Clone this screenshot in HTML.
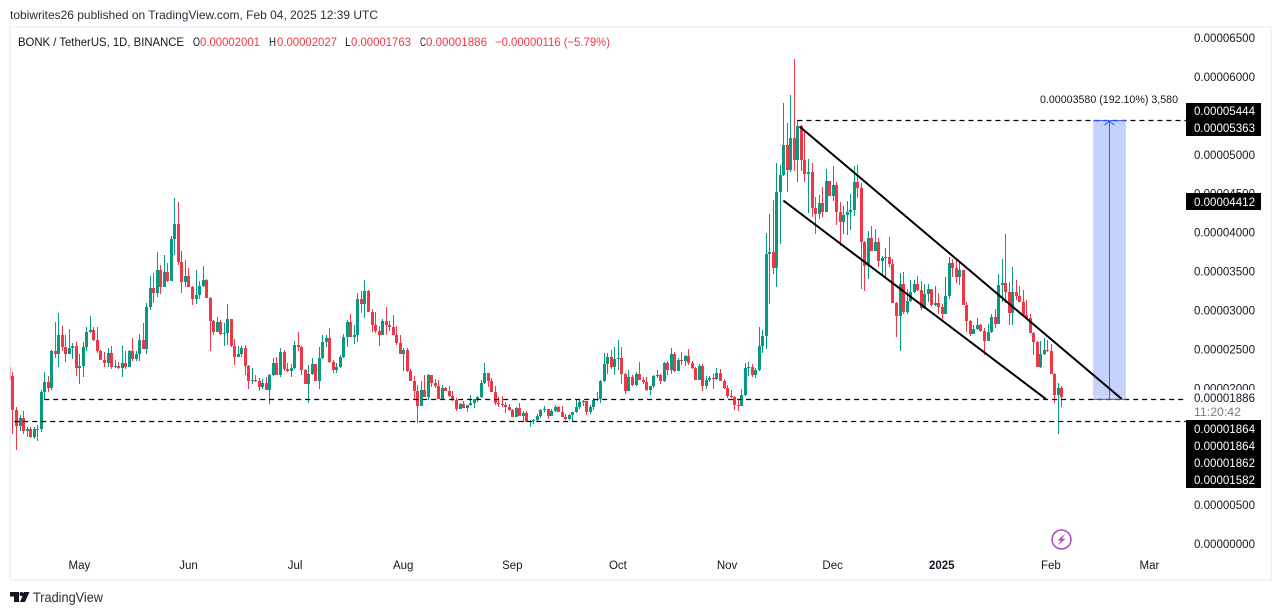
<!DOCTYPE html>
<html lang="en">
<head>
<meta charset="utf-8">
<title>BONK / TetherUS chart</title>
<style>
html,body{margin:0;padding:0;background:#fff;}
body{width:1281px;height:615px;overflow:hidden;}
svg{display:block;}
text{font-family:"Liberation Sans",sans-serif;}
</style>
</head>
<body>
<svg id="chart" xmlns="http://www.w3.org/2000/svg" width="1281" height="615" viewBox="0 0 1281 615">
  <rect x="0" y="0" width="1281" height="615" fill="#ffffff"/>
  <text x="10" y="19" font-size="12" fill="#2a2e39" textLength="368" lengthAdjust="spacingAndGlyphs">tobiwrites26 published on TradingView.com, Feb 04, 2025 12:39 UTC</text>
  <rect x="10" y="27" width="1261" height="553" fill="none" stroke="#f0f3fa" stroke-width="2"/>
  <rect x="10" y="367" width="1" height="13" fill="#f8a0a8"/>
  <g id="candles" shape-rendering="crispEdges"></g>
  <g id="annotations"></g>
  <g id="price-axis"></g>
  <g id="time-axis"></g>

  <text x="18" y="46" font-size="12" fill="#131722" textLength="166" lengthAdjust="spacingAndGlyphs">BONK / TetherUS, 1D, BINANCE</text>
  <text x="193" y="46" font-size="12" fill="#131722" textLength="7" lengthAdjust="spacingAndGlyphs">O</text>
  <text x="200" y="46" font-size="12" fill="#f23645" textLength="60" lengthAdjust="spacingAndGlyphs">0.00002001</text>
  <text x="269" y="46" font-size="12" fill="#131722" textLength="7" lengthAdjust="spacingAndGlyphs">H</text>
  <text x="277" y="46" font-size="12" fill="#f23645" textLength="60" lengthAdjust="spacingAndGlyphs">0.00002027</text>
  <text x="345" y="46" font-size="12" fill="#131722" textLength="6" lengthAdjust="spacingAndGlyphs">L</text>
  <text x="351" y="46" font-size="12" fill="#f23645" textLength="60" lengthAdjust="spacingAndGlyphs">0.00001763</text>
  <text x="420" y="46" font-size="12" fill="#131722" textLength="6" lengthAdjust="spacingAndGlyphs">C</text>
  <text x="426" y="46" font-size="12" fill="#f23645" textLength="61" lengthAdjust="spacingAndGlyphs">0.00001886</text>
  <text x="495" y="46" font-size="12" fill="#f23645" textLength="115" lengthAdjust="spacingAndGlyphs">−0.00000116 (−5.79%)</text>

  <text x="1178" y="103" font-size="11" fill="#131722" text-anchor="end" textLength="138" lengthAdjust="spacingAndGlyphs">0.00003580 (192.10%) 3,580</text>

  <g>
    <rect x="1186" y="103" width="75" height="33" fill="#000000"/>
    <text x="1194" y="115" font-size="11.5" fill="#ffffff" textLength="61" lengthAdjust="spacingAndGlyphs">0.00005444</text>
    <text x="1194" y="132" font-size="11.5" fill="#ffffff" textLength="61" lengthAdjust="spacingAndGlyphs">0.00005363</text>
    <rect x="1186" y="193" width="75" height="17" fill="#000000"/>
    <text x="1194" y="206" font-size="11.5" fill="#ffffff" textLength="61" lengthAdjust="spacingAndGlyphs">0.00004412</text>
  </g>
  <g>
    <rect x="1186" y="390" width="75" height="30" fill="#ffffff"/>
    <text x="1194" y="402" font-size="11.5" fill="#131722" textLength="61" lengthAdjust="spacingAndGlyphs">0.00001886</text>
    <text x="1194" y="416" font-size="11.5" fill="#787b86" textLength="47" lengthAdjust="spacingAndGlyphs">11:20:42</text>
  </g>
  <g>
    <rect x="1186" y="420" width="75" height="68" fill="#000000"/>
    <text x="1194" y="433" font-size="11.5" fill="#ffffff" textLength="61" lengthAdjust="spacingAndGlyphs">0.00001864</text>
    <text x="1194" y="450" font-size="11.5" fill="#ffffff" textLength="61" lengthAdjust="spacingAndGlyphs">0.00001864</text>
    <text x="1194" y="467" font-size="11.5" fill="#ffffff" textLength="61" lengthAdjust="spacingAndGlyphs">0.00001862</text>
    <text x="1194" y="484" font-size="11.5" fill="#ffffff" textLength="61" lengthAdjust="spacingAndGlyphs">0.00001582</text>
  </g>

  <g>
    <circle cx="1061.5" cy="539.5" r="9.5" fill="#ffffff" stroke="#ab47bc" stroke-width="1.5"/>
    <polygon points="1065.5,533.5 1057.5,540.5 1061,540.5 1057.5,545.5 1065.5,538.8 1062,538.8" fill="#ab47bc"/>
  </g>

  <g>
    <polygon points="10,592 19,592 19,602 14,602 14,596.5 10,596.5" fill="#131722"/>
    <circle cx="21.5" cy="594" r="2" fill="#131722"/>
    <polygon points="24,592 29.5,592 25,602 20,602" fill="#131722"/>
    <text x="33" y="602" font-size="14" fill="#2a2e39" textLength="70" lengthAdjust="spacingAndGlyphs">TradingView</text>
  </g>
</svg>
<script>
// Prices are in millionths of USDT (20.01 = 0.00002001)
const firstOpen = 21.58;
const closes = [
17.21,15.15,16.18,14.51,14.73,13.74,14.81,14.77,19.52,20.81,20.04,24.79,24.40,26.84,25.30,24.40,25.17,25.43,22.60,22.86,25.30,27.23,27.49,26.20,24.79,23.63,23.25,24.53,22.73,22.86,22.60,23.25,22.73,24.79,23.76,24.40,26.20,25.04,30.44,32.88,32.24,35.19,33.01,34.94,33.78,39.18,41.10,36.22,33.65,34.42,33.01,31.47,31.98,33.14,33.91,31.60,28.64,27.23,28.51,26.97,27.10,28.90,25.43,24.02,24.40,25.17,22.86,20.93,21.06,20.97,20.16,
20.68,19.78,21.71,23.25,21.71,24.67,22.48,22.23,22.61,25.57,25.31,22.35,20.56,21.84,23.12,20.94,23.90,25.95,26.46,23.38,22.35,22.74,23.98,26.59,28.52,26.59,26.85,31.47,30.83,32.50,29.80,28.13,27.36,26.85,28.65,28.13,27.88,26.85,25.82,24.41,24.92,22.23,20.94,19.66,17.73,19.78,18.89,21.71,20.68,20.30,18.63,20.04,19.66,19.01,18.50,17.34,17.99,17.47,17.86,18.11,18.63,18.84,20.68,21.97,20.94,19.53,18.11,17.99,17.86,17.60,17.22,16.32,17.47,16.44,
16.82,15.67,15.80,15.92,16.44,17.21,17.29,16.44,17.08,17.59,16.95,16.31,16.05,16.57,16.95,17.59,18.24,18.37,16.95,17.59,18.49,18.62,20.93,23.12,24.02,22.73,23.76,23.89,21.83,19.65,21.45,20.42,21.83,21.06,20.81,19.78,20.29,21.58,21.71,20.93,23.25,22.35,24.40,22.22,23.63,23.50,24.15,23.25,22.60,21.06,22.86,20.29,21.06,21.32,21.19,21.96,20.93,20.03,19.01,18.92,17.85,17.72,19.14,22.60,22.69,21.71,22.35,25.43,
26.71,37.25,37.51,35.45,45.21,47.39,51.25,48.04,52.15,49.32,53.69,49.32,47.52,47.78,43.15,42.38,43.80,42.64,46.62,44.69,46.11,42.64,41.36,42.25,42.64,42.90,46.49,45.72,38.79,
35.71,39.31,37.64,38.80,36.35,36.74,36.83,35.97,30.96,29.29,33.40,29.80,31.22,
32.37,33.40,32.63,30.32,32.11,32.76,30.70,30.96,30.44,29.54,31.86,36.10,35.45,34.30,35.20,30.70,28.64,26.98,27.62,28.13,27.36,26.08,27.23,29.16,28.26,33.27,33.53,32.37,29.67,32.37,31.86,31.09,29.42,29.03,27.10,25.95,22.74,24.41,24.92,24.79,21.84,19.14,20.01,18.86
];
const highs = [
22.09,17.64,16.57,17.08,14.98,14.98,14.98,15.28,19.78,22.09,21.58,24.92,28.51,29.67,28.00,26.84,27.61,25.82,25.94,24.40,25.94,27.87,29.28,27.87,27.87,24.92,24.66,25.17,25.43,23.63,23.37,25.43,24.79,24.92,26.46,24.79,26.97,28.38,30.95,34.42,34.81,37.51,35.84,37.12,36.09,39.56,44.44,43.93,37.63,36.48,35.45,33.14,35.19,33.78,35.71,34.04,31.72,28.77,29.16,28.77,28.38,30.83,28.90,26.33,25.43,25.43,25.56,22.99,22.60,21.71,21.32,
21.20,21.45,21.84,23.90,24.02,25.18,24.92,23.25,23.12,26.08,27.24,25.44,22.48,23.00,23.90,23.12,25.31,26.85,26.85,27.75,23.64,23.25,24.28,26.98,28.78,29.55,28.13,32.25,32.50,33.92,32.63,30.19,29.80,28.01,28.91,30.45,28.65,29.42,28.01,26.85,25.18,25.18,22.48,21.58,20.43,20.94,21.71,21.84,21.71,21.20,21.07,20.43,20.17,20.30,19.66,18.76,18.11,18.37,17.86,19.14,18.63,19.01,21.07,23.25,21.97,21.33,20.30,18.89,19.01,18.24,17.99,17.34,17.60,18.11,
17.08,17.08,15.92,16.05,16.69,17.34,17.72,17.21,17.34,17.81,17.72,17.72,16.69,16.69,16.95,18.49,18.62,18.49,18.37,17.85,18.75,19.52,21.06,24.53,24.53,24.92,25.30,26.20,25.30,21.96,22.35,21.71,22.09,23.37,21.45,21.45,20.29,21.71,22.35,21.83,23.37,23.50,25.17,24.66,23.89,24.66,24.27,25.04,23.50,22.73,23.12,23.12,21.58,21.58,21.83,22.60,22.48,21.19,20.42,19.78,19.01,18.49,19.91,23.25,23.37,23.12,22.60,27.87,
27.48,39.95,42.39,44.19,48.93,48.68,56.64,54.07,57.67,62.29,54.46,53.82,53.04,49.45,48.93,44.57,44.82,45.85,48.16,46.62,48.55,46.49,43.92,43.41,44.05,44.95,48.55,48.68,46.36,
38.92,40.21,40.85,40.47,39.31,37.00,38.02,39.44,36.61,31.09,34.81,34.94,32.76,
33.91,33.91,34.43,33.78,33.40,33.40,32.76,33.14,32.24,30.83,34.30,36.87,36.61,36.48,36.10,35.20,31.09,28.77,28.13,29.03,28.26,27.75,28.26,29.54,30.19,34.68,36.61,39.82,33.66,35.58,33.91,33.14,32.63,31.34,29.54,27.23,26.08,26.08,26.46,26.20,25.69,21.97,20.68,20.27
];
const lows = [
14.13,12.07,14.55,14.13,13.78,13.61,13.53,13.27,14.38,18.58,19.52,19.78,23.89,22.73,24.79,23.37,24.40,23.76,21.58,20.55,21.45,24.79,27.10,26.07,24.53,23.63,22.73,22.73,22.48,22.60,22.48,21.45,22.48,22.73,23.50,23.50,23.50,25.04,24.40,30.05,30.95,31.72,32.11,33.01,33.65,33.78,37.12,35.84,32.24,33.01,33.01,30.70,30.83,31.47,33.01,31.60,24.79,26.84,27.23,26.84,25.43,25.56,25.30,22.99,24.02,24.02,21.71,19.91,20.55,20.85,19.65,
19.91,19.78,17.99,21.58,21.71,21.45,22.23,22.10,21.45,22.48,24.79,21.71,20.56,18.11,21.71,20.94,19.91,23.77,25.31,23.25,21.97,21.97,22.61,23.90,25.31,26.59,25.69,25.95,29.68,29.03,29.80,27.24,27.11,25.44,26.85,26.85,27.36,26.85,25.57,24.41,22.23,22.10,20.94,18.63,15.55,17.73,18.89,18.50,20.17,20.04,18.63,18.63,19.66,18.89,18.37,17.09,17.34,17.47,16.96,17.73,17.47,18.24,18.76,20.56,20.17,19.53,17.86,17.60,17.60,16.83,17.09,16.32,16.32,16.44,
15.67,15.67,15.02,15.41,15.80,16.14,16.95,16.05,16.44,16.95,16.95,16.31,15.92,15.92,15.67,16.82,17.34,17.72,16.57,16.69,17.21,18.37,18.11,20.81,21.83,22.48,21.71,22.35,20.55,19.26,19.65,20.29,20.29,21.06,20.55,19.65,19.14,20.03,21.32,20.55,20.81,21.71,21.83,22.09,22.22,22.99,22.86,22.99,22.48,21.06,21.71,19.65,19.91,20.81,19.91,21.06,20.93,19.91,18.75,18.75,17.21,17.08,17.72,19.01,21.58,21.45,21.32,22.22,
24.53,25.05,30.83,34.68,33.01,38.53,47.26,45.21,47.78,47.91,46.49,47.91,46.49,42.51,41.99,39.81,41.74,41.99,42.64,44.69,44.05,40.97,38.27,39.81,39.69,40.33,42.13,44.44,32.76,
32.50,34.04,37.64,37.64,35.58,34.43,34.30,35.58,30.96,26.59,24.79,29.55,29.55,
31.09,32.24,32.50,30.06,30.19,31.09,30.57,30.57,29.54,28.90,29.54,31.47,34.30,33.53,33.27,30.70,27.23,26.72,26.98,27.49,27.23,24.28,26.08,27.10,27.75,28.26,31.09,30.96,28.13,28.13,31.34,31.09,29.42,28.90,27.10,24.28,22.74,22.61,24.28,24.66,21.84,18.11,14.13,17.63
];
const priceTicks = [65, 60, 50, 45, 40, 35, 30, 25, 20, 5, 0];
const monthLabels = ["May", "Jun", "Jul", "Aug", "Sep", "Oct", "Nov", "Dec", "2025", "Feb", "Mar"];
const monthBars = [19, 50, 80.3, 111, 142, 172, 203, 233, 264, 295, 323];
const levelPrices = [54.44, 18.64, 15.82];
const levelStartBars = [223, 9, 0.5];
const levelEndBar = 333.4;
const upperChannelPrices = [53.63, 18.64];
const upperChannelBars = [223.6, 315.1];
const lowerChannelPrices = [44.12, 18.62];
const lowerChannelBars = [219, 293.6];
const measurePrices = [18.64, 54.44];
const measureBars = [307, 316.3];

function xScale(bar) { return 12.48 + 3.52 * bar; }
function yScale(price) { return 544 - 7.785 * price; }

const NS = 'http://www.w3.org/2000/svg';
function make(tag, attrs, parent) {
  const el = document.createElementNS(NS, tag);
  for (const k in attrs) el.setAttribute(k, attrs[k]);
  parent.appendChild(el);
  return el;
}

const GREEN = '#089981';
const RED = '#f23645';
const candleLayer = document.getElementById('candles');
closes.forEach(function (close, i) {
  const open = i === 0 ? firstOpen : closes[i - 1];
  const colour = close >= open ? GREEN : RED;
  const px = Math.round(xScale(i));
  const yHigh = Math.round(yScale(highs[i]));
  const yLow = Math.round(yScale(lows[i]));
  const yTop = Math.round(yScale(Math.max(open, close)));
  const yBot = Math.round(yScale(Math.min(open, close)));
  const group = make('g', {}, candleLayer);
  
  
  const wick = make('rect', { x: px, y: yHigh, width: 1, height: Math.max(1, yLow - yHigh), fill: colour }, group);
  
  
  const body = make('rect', { x: px - 1, y: yTop, width: 3, height: Math.max(1, yBot - yTop), fill: colour }, group);
  
  
});

const drawLayer = document.getElementById('annotations');

const box = make('rect', {
  x: xScale(measureBars[0]), y: yScale(measurePrices[1]),
  width: xScale(measureBars[1]) - xScale(measureBars[0]),
  height: yScale(measurePrices[0]) - yScale(measurePrices[1]),
  fill: '#c5d3fb'
}, drawLayer);



const boxDots = make('line', {
  x1: xScale(measureBars[0]), x2: xScale(measureBars[1]),
  y1: yScale(18.86) - 0.5, y2: yScale(18.86) - 0.5,
  stroke: '#ffffff', 'stroke-width': 1, 'stroke-dasharray': '1 2'
}, drawLayer);



levelPrices.forEach(function (price, i) {
  const y = Math.round(yScale(price)) + 0.5;
  const line = make('line', {
    x1: xScale(levelStartBars[i]), x2: xScale(levelEndBar), y1: y, y2: y,
    stroke: '#000000', 'stroke-width': 1.3, 'stroke-dasharray': '5 4'
  }, drawLayer);
  
  
});

const midX = (xScale(measureBars[0]) + xScale(measureBars[1])) / 2;
const boxTop = make('line', {
  x1: xScale(measureBars[0]), x2: xScale(measureBars[1]),
  y1: yScale(measurePrices[1]) + 0.5, y2: yScale(measurePrices[1]) + 0.5,
  stroke: '#2962ff', 'stroke-width': 1
}, drawLayer);



const boxBottom = make('line', {
  x1: xScale(measureBars[0]), x2: xScale(measureBars[1]),
  y1: yScale(measurePrices[0]) + 0.5, y2: yScale(measurePrices[0]) + 0.5,
  stroke: '#2962ff', 'stroke-width': 1
}, drawLayer);



const stem = make('line', {
  x1: midX, x2: midX, y1: yScale(measurePrices[0]), y2: yScale(measurePrices[1]) + 1,
  stroke: '#2962ff', 'stroke-width': 1
}, drawLayer);



const head = make('polyline', {
  points: (midX - 5) + ',' + (yScale(measurePrices[1]) + 5) + ' ' + midX + ',' + (yScale(measurePrices[1]) + 1) + ' ' + (midX + 5) + ',' + (yScale(measurePrices[1]) + 5),
  fill: 'none', stroke: '#2962ff', 'stroke-width': 1
}, drawLayer);



const upperChannel = make('line', {
  x1: xScale(upperChannelBars[0]), y1: yScale(upperChannelPrices[0]),
  x2: xScale(upperChannelBars[1]), y2: yScale(upperChannelPrices[1]),
  stroke: '#000000', 'stroke-width': 2
}, drawLayer);



const lowerChannel = make('line', {
  x1: xScale(lowerChannelBars[0]), y1: yScale(lowerChannelPrices[0]),
  x2: xScale(lowerChannelBars[1]), y2: yScale(lowerChannelPrices[1]),
  stroke: '#000000', 'stroke-width': 2
}, drawLayer);



const priceAxis = document.getElementById('price-axis');
priceTicks.forEach(function (tick) {
  const label = make('text', {
    x: 1194, y: yScale(tick) + 4, 'font-size': 11.5, fill: '#131722',
    textLength: 61, lengthAdjust: 'spacingAndGlyphs'
  }, priceAxis);
  label.textContent = (tick / 1e6).toFixed(8);
  
  
});

const timeAxis = document.getElementById('time-axis');
monthLabels.forEach(function (name, i) {
  const label = make('text', {
    x: xScale(monthBars[i]), y: 569, 'font-size': 11.5, fill: '#131722',
    'text-anchor': 'middle', 'font-weight': name === '2025' ? 'bold' : 'normal'
  }, timeAxis);
  label.textContent = name;
  
  
});
</script>
</body>
</html>
